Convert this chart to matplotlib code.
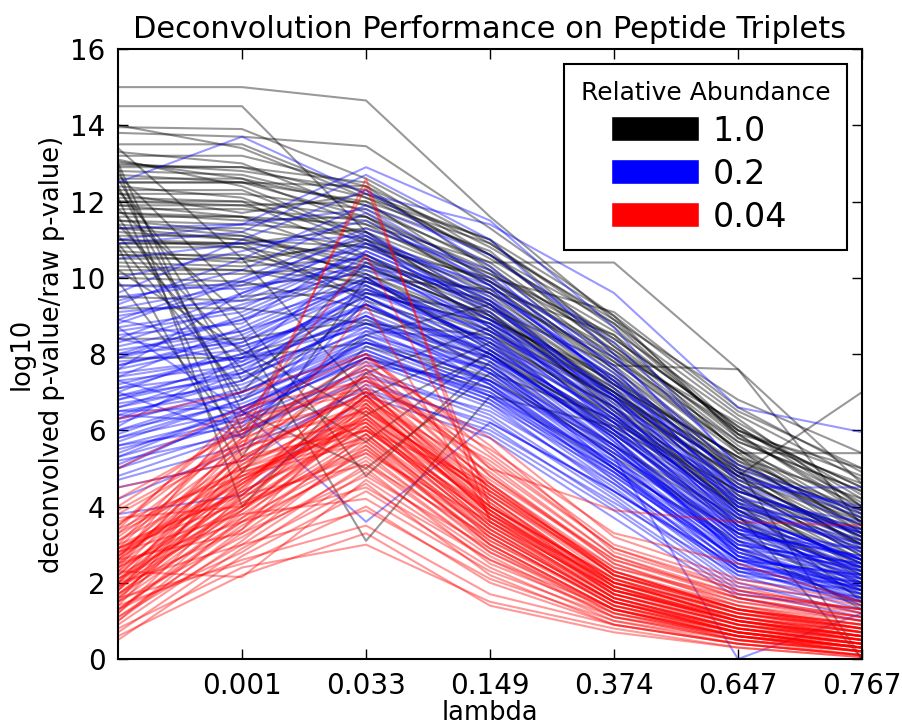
import matplotlib
matplotlib.use("Agg")
import matplotlib.pyplot as plt
from matplotlib.lines import Line2D

# lambda values (first point has no label)
lambdas = ["", "0.001", "0.033", "0.149", "0.374", "0.647", "0.767"]

# log10(deconvolved p-value / raw p-value), one row per peptide triplet
abund_1_0 = [
    [15.0, 15.0, 14.65, 11.6, 8.9, 6.0, 4.5],
    [14.5, 14.5, 11.2, 9.3, 7.2, 5.3, 3.6],
    [14.0, 13.4, 12.1, 10.6, 8.4, 6.1, 4.2],
    [13.8, 13.7, 13.45, 11.3, 9.0, 6.5, 5.0],
    [13.95, 13.9, 12.6, 10.9, 8.8, 5.9, 3.9],
    [13.5, 13.5, 12.2, 11.0, 8.2, 5.7, 4.4],
    [13.2, 13.2, 12.4, 10.2, 7.8, 5.4, 3.4],
    [13.0, 12.8, 12.3, 10.5, 8.6, 6.3, 4.0],
    [13.05, 12.6, 11.4, 9.8, 7.5, 4.9, 3.2],
    [12.9, 12.9, 12.1, 11.0, 9.0, 5.8, 4.6],
    [12.7, 12.5, 11.6, 9.6, 7.2, 5.0, 2.9],
    [12.5, 12.5, 12.4, 10.8, 8.9, 6.8, 5.4],
    [12.4, 12.1, 10.9, 9.4, 6.9, 4.6, 3.0],
    [12.2, 12.2, 11.8, 10.4, 8.1, 5.6, 3.7],
    [12.0, 11.9, 11.2, 9.0, 7.0, 4.3, 2.6],
    [11.9, 11.9, 12.0, 10.9, 8.7, 5.9, 5.0],
    [11.7, 11.6, 10.5, 9.1, 6.6, 4.2, 2.4],
    [11.5, 11.4, 11.2, 9.9, 8.0, 5.5, 4.0],
    [11.3, 11.3, 10.8, 9.5, 7.4, 4.8, 3.5],
    [11.2, 11.0, 10.1, 8.6, 6.3, 3.9, 2.2],
    [11.0, 10.9, 10.6, 9.2, 7.7, 5.2, 3.3],
    [10.9, 10.9, 11.3, 10.1, 8.3, 5.8, 4.1],
    [10.7, 10.5, 9.8, 8.3, 6.0, 3.7, 1.9],
    [10.5, 10.5, 10.9, 9.7, 7.3, 4.8, 3.0],
    [10.3, 10.2, 9.6, 8.8, 6.8, 4.5, 2.7],
    [10.1, 10.1, 10.3, 9.0, 7.1, 5.1, 3.8],
    [10.0, 9.9, 9.2, 8.0, 5.9, 3.6, 2.0],
    [9.5, 9.4, 9.7, 8.5, 6.4, 4.0, 2.5],
    [9.2, 9.2, 8.8, 7.7, 5.6, 3.5, 1.8],
    [8.4, 8.4, 8.9, 7.9, 6.2, 4.4, 3.1],
    [7.9, 7.9, 8.3, 7.4, 5.4, 3.3, 1.7],
    [13.0, 6.0, 8.5, 9.3, 7.0, 4.7, 3.2],
    [12.9, 4.0, 7.5, 8.7, 6.5, 4.1, 2.6],
    [12.6, 7.3, 9.6, 9.1, 6.9, 5.0, 0.0],
    [12.3, 8.5, 3.1, 6.9, 6.1, 4.2, 3.0],
    [12.1, 5.3, 10.0, 8.2, 6.4, 3.8, 0.0],
    [11.8, 9.0, 4.8, 7.8, 5.9, 3.5, 2.4],
    [11.6, 6.8, 9.3, 7.6, 5.3, 3.3, 1.6],
    [11.1, 7.6, 5.7, 8.1, 6.0, 4.0, 2.9],
    [10.8, 4.9, 8.2, 7.3, 5.6, 3.7, 2.2],
    [10.2, 8.1, 6.4, 8.0, 5.8, 2.9, 1.4],
    [9.9, 5.8, 7.9, 7.1, 5.0, 3.1, 1.3],
    [11.9, 11.6, 11.4, 10.4, 10.4, 7.6, 4.6],
    [12.5, 12.5, 12.0, 9.9, 7.7, 7.6, 3.5],
    [11.4, 11.1, 10.3, 9.0, 6.7, 4.8, 7.0],
    [10.6, 10.6, 10.0, 9.7, 8.5, 5.4, 5.4],
    [11.3, 11.0, 10.8, 10.0, 9.1, 6.6, 4.9],
    [12.8, 12.7, 11.9, 10.7, 8.0, 6.2, 4.3],
    [11.8, 11.8, 11.5, 9.8, 7.6, 5.0, 3.9],
    [10.4, 10.3, 10.5, 9.3, 6.5, 4.4, 3.4],
    [12.1, 12.0, 10.6, 8.9, 7.3, 5.3, 3.1],
    [11.0, 10.8, 9.4, 8.4, 6.6, 4.6, 2.8],
    [13.3, 13.0, 11.7, 10.1, 8.5, 6.0, 4.8],
    [12.3, 12.3, 11.0, 8.7, 6.8, 3.9, 2.1],
    [10.9, 7.0, 10.4, 9.6, 7.8, 5.5, 3.6],
    [12.95, 12.9, 12.5, 10.6, 8.2, 5.9, 3.8],
    [12.6, 12.6, 11.9, 10.3, 7.9, 5.5, 3.3],
    [12.0, 12.0, 11.6, 10.0, 7.6, 5.2, 3.9],
    [11.6, 11.6, 11.0, 9.6, 7.9, 5.7, 4.4],
    [11.1, 11.1, 10.4, 8.9, 7.0, 4.9, 3.6],
    [10.8, 10.8, 10.2, 9.4, 7.2, 5.3, 4.2],
    [10.2, 10.2, 9.9, 8.6, 6.9, 4.7, 3.2],
    [10.6, 10.4, 11.0, 9.9, 8.1, 6.0, 4.5],
    [13.1, 12.4, 11.1, 9.2, 7.1, 4.5, 2.7],
    [12.2, 11.7, 12.2, 10.6, 8.8, 6.4, 4.7],
    [11.5, 11.2, 10.0, 8.1, 6.2, 4.3, 2.3],
    [9.8, 9.8, 10.1, 8.8, 7.0, 4.9, 3.7],
    [12.7, 9.5, 9.9, 8.9, 7.4, 5.1, 3.5],
    [11.4, 8.0, 8.8, 8.5, 6.8, 4.8, 3.0],
    [13.4, 10.5, 6.9, 8.3, 6.6, 3.9, 2.5],
    [12.4, 6.5, 5.0, 7.5, 6.3, 4.4, 3.3],
    [10.9, 10.9, 9.5, 8.0, 6.1, 4.1, 1.5],
    [11.7, 11.5, 11.6, 10.2, 8.4, 6.1, 4.0],
]

abund_0_2 = [
    [12.5, 13.7, 12.2, 11.4, 9.6, 6.6, 5.95],
    [11.0, 11.4, 12.9, 11.5, 8.7, 5.0, 3.7],
    [10.9, 11.2, 12.7, 11.0, 8.0, 4.6, 3.3],
    [9.6, 11.0, 12.3, 10.3, 7.6, 4.1, 2.9],
    [9.4, 10.2, 11.7, 9.8, 7.2, 4.8, 3.9],
    [9.2, 9.8, 11.2, 9.5, 6.8, 3.8, 2.6],
    [9.0, 9.5, 11.0, 9.1, 6.5, 3.6, 2.4],
    [8.8, 9.9, 10.8, 9.4, 7.4, 4.3, 3.1],
    [8.6, 9.1, 10.5, 8.7, 6.2, 3.4, 2.2],
    [8.5, 8.8, 10.9, 9.0, 6.0, 3.2, 2.0],
    [8.3, 9.3, 10.2, 8.9, 6.9, 4.0, 3.0],
    [8.1, 8.6, 10.0, 8.5, 5.8, 3.1, 2.3],
    [8.0, 8.3, 9.7, 8.3, 6.3, 3.7, 2.8],
    [7.9, 9.0, 10.4, 8.6, 6.6, 3.9, 2.5],
    [7.8, 8.1, 9.5, 8.0, 5.6, 2.9, 1.9],
    [7.7, 8.5, 9.9, 8.8, 6.4, 3.5, 2.1],
    [7.5, 7.9, 9.3, 7.9, 5.5, 2.8, 1.8],
    [7.4, 8.7, 10.1, 8.2, 6.1, 3.3, 2.7],
    [7.3, 7.7, 9.0, 7.7, 5.4, 3.0, 2.2],
    [7.2, 8.0, 9.6, 8.4, 5.9, 3.6, 2.6],
    [7.1, 7.5, 8.8, 7.5, 5.2, 2.7, 1.7],
    [7.0, 8.2, 9.2, 8.1, 6.2, 3.4, 2.4],
    [6.9, 7.4, 8.6, 7.3, 5.0, 2.6, 1.6],
    [6.8, 7.8, 9.8, 8.3, 5.7, 3.2, 2.9],
    [6.7, 7.2, 8.5, 7.6, 5.3, 2.5, 1.5],
    [6.6, 7.6, 9.1, 7.8, 5.6, 3.1, 2.0],
    [6.5, 7.0, 8.3, 7.1, 4.9, 2.4, 1.4],
    [6.4, 7.3, 8.9, 7.4, 5.1, 2.9, 2.1],
    [6.3, 6.9, 8.1, 6.9, 4.7, 2.3, 1.9],
    [6.2, 7.1, 8.7, 7.7, 5.5, 3.0, 2.5],
    [6.0, 6.7, 8.0, 6.8, 4.6, 2.2, 1.3],
    [5.9, 7.0, 8.4, 7.2, 5.0, 2.8, 1.8],
    [5.8, 6.5, 7.8, 6.6, 4.5, 2.1, 1.6],
    [5.7, 6.8, 8.2, 7.0, 4.8, 2.6, 2.2],
    [5.5, 6.3, 7.6, 6.4, 4.3, 2.0, 1.2],
    [5.4, 6.6, 8.0, 6.9, 5.2, 3.3, 2.7],
    [5.3, 6.2, 7.5, 6.3, 4.2, 1.9, 1.5],
    [5.1, 6.4, 7.9, 6.7, 4.4, 2.4, 1.7],
    [5.0, 6.0, 7.3, 6.1, 4.0, 1.8, 1.1],
    [4.8, 5.9, 7.4, 6.5, 4.6, 2.5, 2.0],
    [4.7, 5.6, 7.1, 5.9, 3.9, 1.7, 1.3],
    [4.2, 5.5, 7.0, 6.0, 4.1, 2.2, 1.8],
    [3.8, 4.3, 6.9, 5.8, 3.7, 1.6, 1.0],
    [11.3, 11.4, 11.8, 10.0, 7.9, 4.9, 3.5],
    [10.0, 10.7, 11.5, 9.9, 7.7, 4.4, 3.4],
    [9.3, 10.5, 11.9, 10.6, 8.3, 5.1, 3.8],
    [8.9, 10.0, 11.3, 10.2, 7.1, 4.2, 3.6],
    [8.7, 6.5, 3.6, 6.2, 4.4, 2.3, 1.6],
    [7.6, 9.6, 10.6, 9.2, 7.0, 4.5, 3.2],
    [7.0, 5.8, 9.4, 7.5, 5.3, 0.0, 1.2],
    [6.1, 7.9, 10.7, 9.3, 6.7, 3.5, 2.3],
    [5.6, 6.1, 8.6, 8.4, 6.3, 3.9, 3.0],
    [9.8, 9.7, 10.3, 9.6, 7.5, 4.7, 4.0],
    [8.2, 8.9, 9.8, 8.0, 5.8, 2.7, 1.5],
    [7.3, 6.4, 9.5, 7.9, 6.0, 3.8, 2.6],
    [9.1, 9.4, 10.6, 8.9, 6.4, 4.5, 4.5],
    [8.4, 7.8, 9.0, 7.2, 5.1, 2.9, 2.4],
    [6.8, 7.5, 9.7, 8.6, 6.8, 4.1, 3.3],
    [5.2, 5.9, 7.7, 7.3, 5.4, 3.4, 2.9],
    [7.7, 8.4, 10.0, 8.1, 5.7, 2.7, 2.0],
    [6.5, 6.6, 7.9, 6.7, 4.8, 2.6, 2.2],
    [8.9, 8.2, 9.3, 7.8, 5.0, 2.4, 1.9],
    [10.5, 10.9, 11.1, 9.7, 7.3, 4.0, 3.1],
    [8.7, 9.2, 10.7, 9.3, 6.9, 4.2, 2.8],
    [8.0, 8.9, 10.3, 8.7, 6.4, 3.8, 2.6],
    [7.6, 8.3, 9.9, 8.5, 6.2, 3.5, 2.3],
    [7.1, 8.0, 9.5, 8.2, 6.0, 3.3, 2.1],
    [6.9, 7.7, 9.3, 8.0, 5.8, 3.2, 2.4],
    [6.6, 7.3, 9.0, 7.5, 5.5, 2.9, 1.8],
    [6.3, 7.5, 8.8, 7.9, 5.9, 3.4, 2.6],
    [6.0, 7.0, 8.5, 7.3, 5.3, 2.8, 1.9],
    [5.8, 6.8, 8.3, 7.6, 5.6, 3.1, 2.3],
    [5.6, 6.4, 7.9, 7.0, 5.0, 2.6, 1.7],
    [5.3, 6.6, 8.1, 6.8, 4.9, 2.7, 2.1],
    [9.5, 9.9, 11.1, 9.4, 6.6, 3.7, 2.5],
    [8.4, 9.6, 10.9, 9.8, 7.3, 4.4, 3.3],
    [7.4, 7.9, 8.7, 7.2, 4.7, 2.3, 1.5],
    [4.5, 5.2, 7.2, 6.2, 4.4, 2.4, 2.0],
    [6.4, 6.2, 8.4, 6.9, 4.9, 2.6, 1.8],
    [7.9, 8.6, 9.6, 8.8, 6.9, 4.0, 3.4],
    [5.0, 6.5, 8.3, 7.1, 5.1, 3.0, 2.5],
]

abund_0_04 = [
    [2.0, 5.5, 12.6, 3.6, 1.8, 1.1, 0.7],
    [2.4, 5.8, 12.4, 4.0, 2.1, 1.0, 0.6],
    [3.0, 6.2, 10.6, 4.3, 2.3, 1.3, 0.9],
    [1.8, 4.9, 9.3, 3.7, 2.0, 1.2, 0.8],
    [6.3, 7.0, 8.0, 5.0, 3.9, 3.6, 3.5],
    [3.5, 5.9, 7.9, 5.6, 2.8, 1.8, 1.3],
    [2.8, 4.4, 7.6, 4.8, 2.5, 1.4, 1.0],
    [1.5, 5.2, 7.3, 5.3, 2.9, 1.9, 1.2],
    [3.3, 5.0, 6.0, 4.6, 2.2, 1.2, 0.8],
    [2.6, 6.4, 7.1, 4.2, 1.9, 0.9, 0.5],
    [1.2, 4.3, 6.8, 3.9, 1.7, 0.8, 0.4],
    [2.2, 3.9, 6.5, 4.4, 2.4, 1.5, 1.1],
    [3.8, 5.6, 6.2, 3.5, 1.6, 0.7, 0.3],
    [1.9, 3.4, 5.9, 3.2, 1.4, 0.6, 0.3],
    [2.5, 4.7, 6.6, 3.8, 2.0, 1.3, 0.7],
    [0.9, 3.1, 5.6, 3.0, 1.3, 0.5, 0.2],
    [3.1, 5.3, 7.0, 4.7, 2.6, 1.6, 1.0],
    [1.6, 4.0, 6.1, 3.4, 1.5, 0.8, 0.4],
    [2.9, 4.1, 5.4, 2.9, 1.2, 0.6, 0.2],
    [4.2, 6.0, 7.4, 5.1, 2.7, 1.7, 1.3],
    [1.3, 2.8, 4.9, 2.7, 1.1, 0.5, 0.1],
    [2.1, 4.6, 6.9, 4.1, 1.8, 1.0, 0.6],
    [0.5, 2.7, 4.4, 2.4, 1.0, 0.4, 0.1],
    [3.6, 4.8, 5.7, 3.3, 1.5, 0.7, 0.4],
    [1.7, 3.6, 5.2, 2.8, 1.3, 0.6, 0.2],
    [2.7, 5.1, 7.2, 4.5, 2.3, 1.4, 0.9],
    [1.1, 3.3, 5.5, 3.1, 1.4, 0.7, 0.3],
    [2.3, 2.15, 4.7, 2.6, 1.1, 0.5, 0.2],
    [3.4, 6.5, 8.0, 5.4, 3.0, 2.0, 1.4],
    [0.8, 2.4, 3.0, 1.5, 0.8, 0.3, 0.05],
    [1.4, 2.6, 3.5, 1.7, 0.9, 0.4, 0.1],
    [2.0, 3.0, 3.9, 2.1, 1.0, 0.5, 0.2],
    [2.8, 3.8, 4.2, 2.3, 1.1, 0.6, 0.3],
    [1.0, 3.7, 6.3, 3.6, 1.6, 0.8, 0.5],
    [2.4, 4.2, 6.4, 3.9, 1.9, 1.1, 0.7],
    [3.9, 5.7, 7.7, 5.8, 3.2, 2.1, 1.5],
    [1.8, 4.4, 6.0, 3.7, 1.7, 0.9, 0.5],
    [2.6, 4.9, 5.8, 3.4, 1.6, 0.8, 0.4],
    [1.5, 3.2, 5.0, 2.5, 1.2, 0.5, 0.2],
    [3.2, 5.5, 6.7, 4.0, 2.1, 1.2, 0.8],
    [2.2, 5.0, 6.3, 4.3, 2.2, 1.3, 0.9],
    [0.7, 2.9, 4.6, 2.2, 0.9, 0.4, 0.1],
    [2.9, 6.0, 6.8, 4.9, 2.5, 1.5, 1.0],
    [1.3, 3.5, 5.3, 3.0, 1.3, 0.6, 0.3],
    [2.5, 3.6, 4.5, 2.6, 1.3, 0.7, 0.3],
    [4.5, 5.2, 6.1, 3.8, 1.8, 1.0, 0.6],
    [1.9, 4.5, 7.5, 4.6, 2.4, 1.6, 1.1],
    [3.0, 4.3, 5.1, 3.2, 1.4, 0.7, 0.3],
    [1.6, 2.5, 4.0, 2.0, 0.9, 0.4, 0.1],
    [2.7, 5.7, 6.5, 4.4, 2.2, 1.4, 0.8],
    [2.0, 4.8, 6.2, 3.5, 1.7, 0.9, 0.5],
    [3.7, 4.0, 5.6, 3.1, 1.5, 0.7, 0.4],
    [1.2, 3.9, 5.9, 3.3, 1.5, 0.8, 0.4],
    [2.3, 5.4, 7.8, 4.8, 2.6, 1.7, 1.2],
    [0.6, 2.2, 3.3, 1.4, 0.7, 0.3, 0.05],
    [3.5, 6.3, 7.0, 5.2, 2.9, 1.8, 1.3],
    [2.1, 3.7, 5.4, 3.6, 1.8, 1.0, 0.6],
    [1.7, 4.2, 6.6, 4.2, 2.0, 1.1, 0.7],
    [2.9, 4.6, 6.3, 3.7, 1.7, 0.9, 0.6],
    [1.4, 4.7, 6.4, 4.0, 2.1, 1.2, 0.7],
    [5.0, 6.6, 7.3, 5.5, 3.3, 2.5, 1.5],
    [2.6, 3.3, 4.8, 2.9, 1.3, 0.6, 0.3],
    [1.0, 3.4, 6.7, 3.8, 1.9, 1.0, 0.5],
    [3.3, 5.8, 6.9, 4.5, 2.3, 1.3, 0.9],
    [2.4, 4.0, 7.1, 4.1, 2.0, 1.1, 0.6],
    [1.8, 5.3, 6.0, 3.9, 1.9, 1.0, 0.6],
    [2.3, 4.5, 6.9, 4.0, 1.9, 1.0, 0.5],
    [2.0, 4.3, 6.7, 3.8, 1.7, 0.9, 0.4],
    [2.6, 5.1, 6.6, 4.2, 2.0, 1.1, 0.6],
    [1.9, 3.9, 6.4, 3.6, 1.6, 0.8, 0.4],
    [2.8, 5.3, 7.0, 4.5, 2.2, 1.3, 0.8],
    [1.7, 4.1, 6.1, 3.4, 1.5, 0.7, 0.3],
    [3.1, 4.8, 6.5, 3.9, 1.8, 1.0, 0.5],
    [2.2, 4.9, 6.0, 3.7, 1.8, 0.9, 0.5],
    [1.5, 3.8, 5.8, 3.2, 1.4, 0.7, 0.3],
    [2.5, 5.6, 7.4, 4.6, 2.3, 1.3, 0.8],
    [2.9, 4.4, 5.9, 3.5, 1.6, 0.8, 0.4],
    [1.3, 3.6, 5.7, 3.0, 1.3, 0.6, 0.2],
    [3.4, 5.0, 6.8, 4.3, 2.1, 1.2, 0.7],
    [2.1, 4.0, 5.5, 3.3, 1.5, 0.7, 0.3],
    [1.1, 3.0, 5.1, 2.8, 1.2, 0.6, 0.2],
    [2.7, 4.7, 6.2, 4.0, 2.0, 1.1, 0.6],
    [4.0, 6.1, 7.6, 5.0, 2.7, 1.6, 1.1],
    [1.6, 4.6, 6.9, 4.4, 2.2, 1.3, 0.8],
]

groups = [("1.0", "k", abund_1_0), ("0.2", "b", abund_0_2), ("0.04", "r", abund_0_04)]

fig = plt.figure(figsize=(9.03, 7.27), dpi=100, facecolor="white")
ax = fig.add_axes([0.1307, 0.0935, 0.8239, 0.8391])

x = list(range(len(lambdas)))
for label, color, rows in groups:
    for row in rows:
        ax.plot(x, row, color=color, alpha=0.4, lw=1.5)

ax.set_xlim(0, 6)
ax.set_ylim(0, 16)
ax.set_xticks(x[1:])
ax.set_xticklabels(lambdas[1:])
ax.set_yticks(range(0, 17, 2))
ax.tick_params(direction="in", top=True, right=True, length=7, width=1,
               labelsize=20, pad=9)
for s in ax.spines.values():
    s.set_linewidth(1.5)

ax.set_title("Deconvolution Performance on Peptide Triplets", fontsize=22, pad=8)
ax.set_xlabel("lambda", fontsize=18.5, labelpad=0)
ax.set_ylabel("log10\ndeconvolved p-value/raw p-value)", fontsize=18.5)

handles = [Line2D([0], [0], color=c, lw=17) for _, c, _ in groups]
leg = ax.legend(handles, [g[0] for g in groups], title="Relative Abundance",
                loc="upper right", fontsize=24, title_fontsize=18,
                fancybox=False, edgecolor="black", framealpha=1,
                handlelength=1.9, handletextpad=0.75, borderpad=0.5,
                labelspacing=0.3, borderaxespad=0.45)
leg.get_frame().set_linewidth(1.5)

fig.savefig("out.png", dpi=100, facecolor="white")
